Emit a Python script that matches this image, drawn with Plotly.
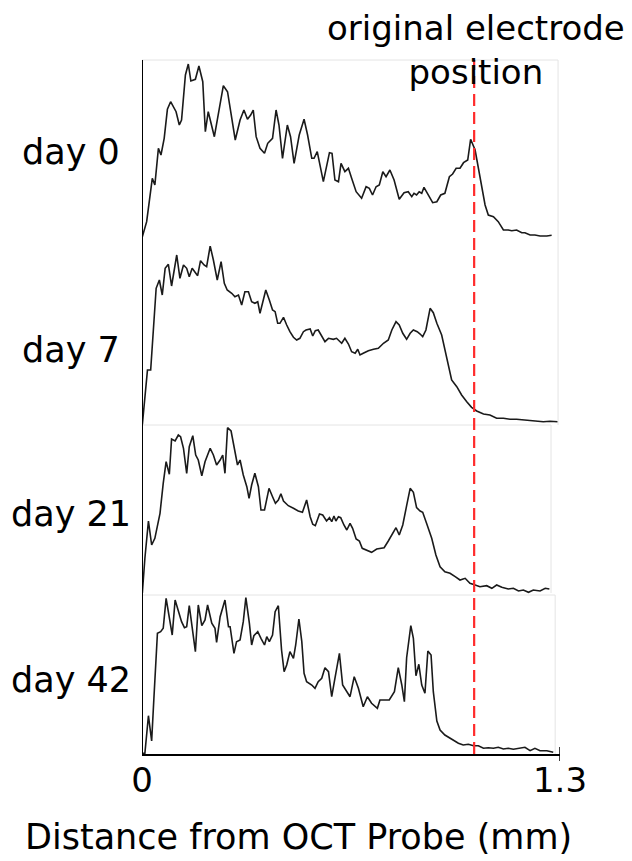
import plotly.graph_objects as go

# ---------------- data (x in mm, y in arbitrary intensity units) ----------------
day0_x = [0.001,0.0145,0.032,0.040,0.051,0.059,0.069,0.079,0.089,0.106,0.116,0.123,0.135,0.144,0.152,0.166,0.177,0.189,0.197,0.206,
          0.225,0.241,0.253,0.266,0.277,0.290,0.305,0.317,0.328,0.338,0.346,0.355,0.367,0.381,0.391,0.406,0.417,0.426,0.437,0.452,
          0.462,0.473,0.489,0.504,0.515,0.528,0.535,0.545,0.564,0.583,0.591,0.600,0.611,0.619,0.631,0.642,0.652,0.666,0.683,0.697,
          0.707,0.717,0.728,0.738,0.749,0.759,0.771,0.784,0.800,0.815,0.828,0.839,0.846,0.854,0.862,0.870,0.877,0.888,0.904,0.917,
          0.929,0.942,0.956,0.966,0.977,0.989,1.000,1.013,1.022,1.036,1.046,1.057,1.067,1.077,1.093,1.108,1.124,1.139,1.150,1.165,
          1.181,1.191,1.207,1.222,1.238,1.259,1.274]
day0_y = [3.3,18.3,61.7,55.0,91.7,85.0,101.7,130.7,138.3,128.3,115.0,120.0,165.0,176.0,159.0,160.7,174.0,158.3,108.3,128.3,
          103.3,133.3,154.3,148.3,125.0,100.0,120.0,130.0,120.7,125.0,130.0,103.3,91.7,86.7,96.7,101.7,130.0,115.0,81.7,115.0,
          103.3,76.7,105.0,120.7,105.0,81.7,81.7,88.3,58.3,87.3,86.7,60.0,58.3,76.7,68.3,71.7,61.7,48.3,41.7,53.3,
          51.7,45.0,53.3,55.0,68.3,63.3,70.0,60.0,40.7,47.3,48.3,43.3,46.7,45.0,48.3,46.7,52.7,46.7,37.3,38.3,
          45.0,46.7,63.3,66.0,71.7,71.7,77.3,80.0,100.7,90.0,71.7,51.7,35.0,25.0,23.3,18.3,10.0,10.0,9.3,10.0,
          7.3,7.3,5.0,5.0,4.0,4.0,4.7]

day7_x = [0.001,0.009,0.017,0.027,0.035,0.044,0.054,0.063,0.072,0.082,0.092,0.108,0.118,0.129,0.139,0.147,0.156,0.166,0.173,0.182,
          0.193,0.201,0.212,0.222,0.234,0.246,0.256,0.265,0.279,0.289,0.300,0.310,0.320,0.331,0.341,0.351,0.360,0.367,0.377,0.385,
          0.396,0.406,0.414,0.422,0.429,0.440,0.450,0.460,0.471,0.481,0.491,0.502,0.510,0.523,0.531,0.539,0.548,0.559,0.569,0.580,
          0.595,0.605,0.614,0.621,0.631,0.642,0.652,0.663,0.671,0.678,0.688,0.704,0.720,0.735,0.751,0.766,0.777,0.790,0.800,0.811,
          0.823,0.834,0.844,0.856,0.865,0.873,0.883,0.896,0.906,0.917,0.932,0.942,0.953,0.963,0.979,0.994,1.010,1.025,1.041,1.062,
          1.082,1.103,1.124,1.145,1.165,1.186,1.207,1.228,1.248,1.269,1.293]
day7_y = [1.0,26.0,56.0,56.0,99.3,137.7,146.0,131.0,157.7,161.7,140.0,171.0,147.7,161.0,157.7,149.3,157.7,153.3,150.3,165.3,
          161.0,159.3,180.0,166.0,146.0,164.3,142.7,136.0,132.7,129.3,131.0,121.0,134.3,134.3,124.3,122.7,124.3,112.7,126.0,136.0,
          126.0,116.0,114.3,102.7,102.7,108.7,101.0,94.3,88.7,86.0,87.7,94.3,96.0,97.0,90.0,95.3,96.0,89.3,84.3,87.7,
          86.7,87.7,84.3,82.7,87.7,82.0,74.3,72.7,76.7,71.0,72.7,75.3,76.7,77.7,82.7,86.0,96.0,104.3,101.0,92.7,
          86.7,92.7,96.0,94.3,92.0,89.3,96.0,117.7,113.3,102.7,91.0,76.0,59.3,46.0,39.3,31.0,24.3,18.7,15.0,12.0,
          11.0,7.7,7.7,6.7,6.7,6.0,6.0,5.3,4.3,4.7,4.3]

day21_x = [0.001,0.009,0.020,0.030,0.040,0.056,0.066,0.075,0.085,0.092,0.103,0.113,0.120,0.129,0.139,0.147,0.158,0.167,0.175,0.186,
           0.196,0.212,0.222,0.232,0.243,0.251,0.258,0.266,0.277,0.286,0.297,0.305,0.315,0.326,0.333,0.341,0.351,0.362,0.370,0.381,
           0.395,0.406,0.415,0.424,0.432,0.440,0.455,0.471,0.486,0.499,0.512,0.523,0.531,0.539,0.552,0.562,0.574,0.583,0.590,0.597,
           0.603,0.611,0.618,0.628,0.637,0.647,0.655,0.666,0.676,0.685,0.699,0.714,0.730,0.753,0.766,0.777,0.790,0.800,0.811,0.823,
           0.834,0.844,0.854,0.865,0.873,0.885,0.901,0.914,0.927,0.942,0.958,0.974,0.989,1.005,1.020,1.036,1.051,1.072,1.088,1.103,
           1.119,1.139,1.155,1.171,1.186,1.202,1.217,1.238,1.254,1.267]
day21_y = [0.7,35.7,73.0,49.0,55.7,80.7,110.7,132.3,119.7,155.0,153.0,159.0,157.3,145.7,120.7,147.3,158.3,139.0,134.0,118.3,
           132.3,145.7,139.0,129.0,134.0,139.0,120.7,166.3,163.0,147.3,129.0,134.0,119.0,107.3,95.7,109.0,120.7,107.3,84.0,84.0,
           105.7,97.3,90.7,94.0,100.3,93.0,88.3,85.7,83.0,81.7,94.0,77.3,69.7,68.3,80.0,79.0,73.0,76.3,72.3,78.0,
           73.0,77.3,76.3,69.0,64.0,70.7,65.7,55.0,53.0,45.7,44.0,41.7,45.0,46.3,53.0,59.7,66.3,59.0,69.0,88.3,
           105.7,101.7,86.3,83.0,81.7,70.7,55.7,39.0,27.3,22.3,20.7,17.3,14.0,15.7,10.7,9.0,7.3,8.3,5.7,9.0,
           6.7,5.0,5.7,3.0,4.0,1.7,4.0,3.0,5.7,5.0]

day42_x = [0.001,0.009,0.020,0.030,0.037,0.048,0.058,0.066,0.075,0.085,0.094,0.103,0.113,0.123,0.132,0.139,0.147,0.158,0.166,0.175,
           0.186,0.196,0.204,0.217,0.227,0.232,0.243,0.258,0.269,0.274,0.286,0.294,0.305,0.315,0.323,0.334,0.341,0.348,0.360,0.370,
           0.381,0.388,0.396,0.406,0.414,0.424,0.434,0.442,0.450,0.460,0.471,0.478,0.488,0.497,0.504,0.512,0.528,0.538,0.548,0.559,
           0.569,0.580,0.590,0.600,0.614,0.624,0.637,0.647,0.660,0.673,0.688,0.701,0.714,0.732,0.740,0.754,0.769,0.785,0.797,0.808,
           0.816,0.823,0.836,0.844,0.852,0.861,0.870,0.880,0.889,0.899,0.906,0.917,0.927,0.942,0.958,0.970,0.984,0.999,1.015,1.031,
           1.046,1.062,1.077,1.093,1.108,1.124,1.139,1.155,1.171,1.191,1.207,1.222,1.238,1.259,1.279]
day42_y = [0.7,0.7,38.3,13.0,55.7,120.7,122.3,125.7,155.7,134.0,119.0,154.0,142.3,132.3,126.3,127.3,148.3,120.7,102.3,149.0,
           128.3,134.0,149.0,130.7,125.7,111.7,137.3,154.0,127.3,127.3,100.7,112.3,114.0,132.3,156.3,130.7,109.0,118.3,122.3,115.7,
           109.0,117.3,112.3,119.0,142.3,148.3,104.0,82.3,89.0,102.3,95.7,109.0,135.0,112.3,80.7,72.3,69.0,65.7,72.3,75.7,
           86.3,82.3,57.3,75.7,100.7,69.0,62.3,57.3,77.3,65.7,47.3,57.3,50.7,45.7,54.0,54.0,54.0,62.3,86.3,69.0,
           52.3,96.3,128.3,115.7,78.3,89.7,69.0,60.7,103.0,99.0,62.3,33.0,24.0,19.0,15.7,13.0,10.7,9.0,9.7,8.3,
           8.3,5.7,6.3,5.7,6.7,5.0,5.7,4.7,5.7,6.7,3.3,5.7,3.3,3.3,1.7]

day_labels = ["day 0", "day 7", "day 21", "day 42"]
electrode_x = 1.033          # original electrode position (mm)
x_ticks = [0, 1.3]
x_tick_text = ["0", "1.3"]
x_title = "Distance from OCT Probe (mm)"
marker_title = "original electrode<br>position"

# ---------------- layout helpers ----------------
# page body has an 8px margin; figure sized so that it reaches the window's right/bottom edges
PAD = 8
W, H = 632 - PAD, 861 - PAD
def py(pix):  # window pixel row -> paper y
    return 1 - (pix - PAD) / H
def px(pix):  # window pixel column -> paper x
    return (pix - PAD) / W

FONT = "DejaVu Sans"
panels = [(60, 240), (246, 426), (414, 594), (574, 754)]   # (top px, bottom px)
series = [(day0_x, day0_y), (day7_x, day7_y), (day21_x, day21_y), (day42_x, day42_y)]

fig = go.Figure()
for i, (xs, ys) in enumerate(series):
    yname = "y" if i == 0 else f"y{i+1}"
    fig.add_trace(go.Scatter(x=xs, y=ys, mode="lines", xaxis="x", yaxis=yname,
                             line=dict(color="#1a1a1a", width=1.6), showlegend=False,
                             hoverinfo="skip"))

layout = dict(
    width=W, height=H, margin=dict(l=0, r=0, t=0, b=0, pad=0),
    paper_bgcolor="white", plot_bgcolor="rgba(0,0,0,0)",
    font=dict(family=FONT, color="black", size=34),
    showlegend=False,
    xaxis=dict(domain=[px(142), px(560)], range=[0, 1.3], anchor="y4", automargin=False,
               showline=True, linecolor="black", linewidth=2, showgrid=False, zeroline=False,
               tickmode="array", tickvals=x_ticks, ticktext=x_tick_text, ticks="",
               ticklabelstandoff=-5,
               tickfont=dict(family=FONT, size=34, color="black")),
)
for i, (top, bot) in enumerate(panels):
    key = "yaxis" if i == 0 else f"yaxis{i+1}"
    layout[key] = dict(domain=[py(bot), py(top)], range=[0, 180], anchor="x", automargin=False,
                       visible=False, showgrid=False, zeroline=False)
fig.update_layout(**layout)

shapes = []
frame = dict(color="#e4e4e4", width=1)
shapes += [
    dict(type="line", xref="x", yref="paper", x0=0, x1=1.294, y0=py(60), y1=py(60), line=frame),
    dict(type="line", xref="x", yref="paper", x0=1.294, x1=1.294, y0=py(60), y1=py(425), line=frame),
    dict(type="line", xref="x", yref="paper", x0=0, x1=1.272, y0=py(425), y1=py(425), line=frame),
    dict(type="line", xref="x", yref="paper", x0=1.272, x1=1.272, y0=py(425), y1=py(593), line=frame),
    dict(type="line", xref="x", yref="paper", x0=0, x1=1.285, y0=py(595), y1=py(595), line=frame),
    dict(type="line", xref="x", yref="paper", x0=1.285, x1=1.285, y0=py(595), y1=py(754), line=frame),
]
shapes.append(dict(type="line", xref="x", yref="paper", x0=0, x1=0, y0=py(755), y1=py(60),
                   line=dict(color="black", width=2)))
shapes.append(dict(type="line", xref="x", yref="paper", x0=1.3, x1=1.3, y0=py(761), y1=py(747),
                   line=dict(color="black", width=1.5)))
shapes.append(dict(type="line", xref="x", yref="paper", x0=electrode_x, x1=electrode_x,
                   y0=py(754), y1=py(60), line=dict(color="#ff2b2b", width=2.2, dash="12px,6px")))
fig.update_layout(shapes=shapes)

annotations = []
label_rows = [152, 350, 514, 680]
for lab, row in zip(day_labels, label_rows):
    annotations.append(dict(text=lab, xref="paper", yref="paper", x=px(71), y=py(row),
                            xanchor="center", yanchor="middle", showarrow=False,
                            font=dict(family=FONT, size=35, color="black")))
annotations.append(dict(text=marker_title, xref="paper", yref="paper", x=px(476), y=py(50),
                        xanchor="center", yanchor="middle", showarrow=False, align="center",
                        font=dict(family=FONT, size=34, color="black")))
annotations.append(dict(text=x_title, xref="paper", yref="paper", x=px(298), y=py(837),
                        xanchor="center", yanchor="middle", showarrow=False,
                        font=dict(family=FONT, size=35, color="black")))
fig.update_layout(annotations=annotations)

fig.write_html("out.html")
